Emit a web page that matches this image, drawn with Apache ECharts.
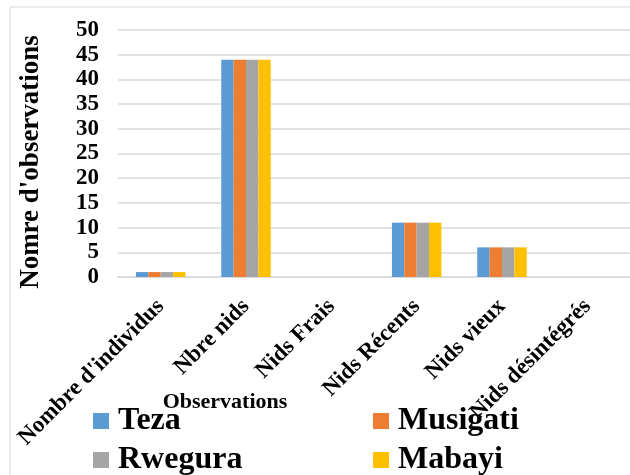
<!DOCTYPE html>
<html><head><meta charset="utf-8">
<script src="https://cdn.jsdelivr.net/npm/echarts@6/dist/echarts.min.js"></script>
<style>html,body{margin:0;padding:0;background:#fff}#c{width:630px;height:475px}</style>
</head><body><div id="c"></div>
<script>
const categories = ["Nombre d'individus", "Nbre nids", "Nids Frais", "Nids Récents", "Nids vieux", "Nids désintégrés"];
const seriesNames = ["Teza", "Musigati", "Rwegura", "Mabayi"];
const teza = [1, 44, 0, 11, 6, 0];
const musigati = [1, 44, 0, 11, 6, 0];
const rwegura = [1, 44, 0, 11, 6, 0];
const mabayi = [1, 44, 0, 11, 6, 0];
const colors = ["#5B9BD5", "#ED7D31", "#A5A5A5", "#FFC000"];
const yAxisName = "Nomre d'observations";
const xAxisName = "Observations";

const F = "'Liberation Serif','Times New Roman',serif";
const chart = echarts.init(document.getElementById('c'), null, {renderer: 'canvas'});
const values = [teza, musigati, rwegura, mabayi];
const legendText = {color: '#000', fontFamily: F, fontWeight: 'bold', fontSize: 32, lineHeight: 28, padding: [0, 0, 0, 4]};
chart.setOption({
  animation: false,
  color: colors,
  graphic: [
    {type: 'rect', shape: {x: 10, y: 7, width: 640, height: 500}, style: {fill: 'none', stroke: '#d9d9d9', lineWidth: 1}, z: -1},
    {type: 'text', x: 225, y: 402, style: {text: xAxisName, font: 'bold 22px ' + F, fill: '#000', textAlign: 'center', textVerticalAlign: 'middle'}},
    {type: 'text', x: 31, y: 162, rotation: Math.PI / 2, style: {text: yAxisName, font: 'bold 27px ' + F, fill: '#000', textAlign: 'center', textVerticalAlign: 'middle'}}
  ],
  grid: {left: 118, top: 30, width: 522, height: 247},
  xAxis: {type: 'category', data: categories,
    axisLine: {lineStyle: {color: '#d9d9d9', width: 1.5}}, axisTick: {show: false},
    axisLabel: {rotate: 45, margin: 26, interval: 0, color: '#000', fontFamily: F, fontWeight: 'bold', fontSize: 23}},
  yAxis: {type: 'value', min: 0, max: 50, interval: 5,
    axisLine: {show: false}, axisTick: {show: false},
    axisLabel: {margin: 19, color: '#000', fontFamily: F, fontWeight: 'bold', fontSize: 23},
    splitLine: {lineStyle: {color: '#d9d9d9', width: 1.5}}},
  legend: [
    {left: 93, top: 405, height: 120, orient: 'vertical', itemWidth: 16, itemHeight: 16, itemGap: 7, icon: 'rect', padding: 0,
     textStyle: legendText, data: [seriesNames[0], seriesNames[2]]},
    {left: 373, top: 405, height: 120, orient: 'vertical', itemWidth: 16, itemHeight: 16, itemGap: 7, icon: 'rect', padding: 0,
     textStyle: legendText, data: [seriesNames[1], seriesNames[3]]}
  ],
  series: seriesNames.map((n, i) => ({
    name: n, type: 'bar', data: values[i],
    barGap: '0%', barCategoryGap: '42%',
    itemStyle: {color: colors[i]}
  }))
});
</script></body></html>
